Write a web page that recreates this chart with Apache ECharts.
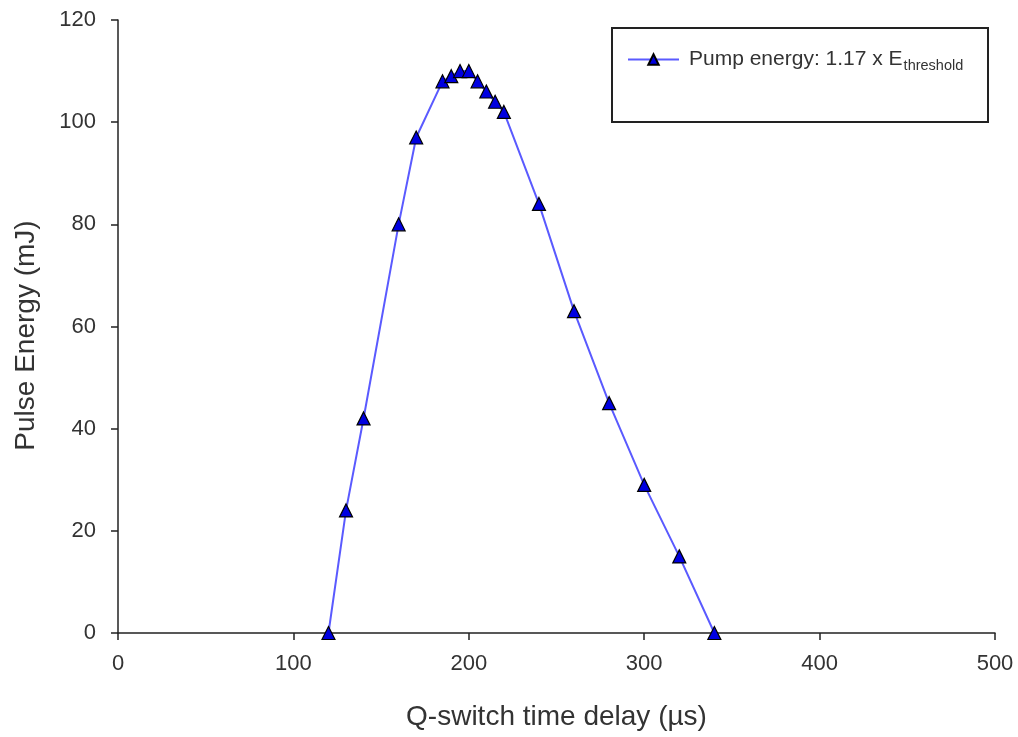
<!DOCTYPE html>
<html><head><meta charset="utf-8">
<script src="https://cdn.jsdelivr.net/npm/echarts@6/dist/echarts.min.js"></script>
<style>html,body{margin:0;padding:0;background:#fff}#c{width:1018px;height:737px}</style>
</head><body><div id="c"></div>
<script>
const delay = [120,130,140,160,170,185,190,195,200,205,210,215,220,240,260,280,300,320,340];
const energy = [0,24,42,80,97,108,109,110,110,108,106,104,102,84,63,45,29,15,0];
const xTicks = [0,100,200,300,400,500];
const yTicks = [0,20,40,60,80,100,120];
const seriesName = 'Pump energy: 1.17 x E';

const chart = echarts.init(document.getElementById('c'), null, {renderer:'canvas'});
const font = 'Liberation Sans, Arial, sans-serif';
chart.setOption({
  animation:false,
  backgroundColor:'#fff',
  grid:{left:118,right:23,top:20,bottom:104,containLabel:false},
  xAxis:{type:'value',min:xTicks[0],max:xTicks[xTicks.length-1],interval:100,
    name:'Q-switch time delay (µs)',nameLocation:'middle',nameGap:70,
    nameTextStyle:{fontFamily:font,fontSize:28,color:'#333'},
    axisLine:{lineStyle:{color:'#222',width:1.5}},
    axisTick:{length:7,lineStyle:{color:'#222',width:1.5}},
    axisLabel:{fontFamily:font,fontSize:22,color:'#333',margin:20},
    splitLine:{show:false}},
  yAxis:{type:'value',min:yTicks[0],max:yTicks[yTicks.length-1],interval:20,
    name:'Pulse Energy (mJ)',nameLocation:'middle',nameGap:78,
    nameTextStyle:{fontFamily:font,fontSize:28,color:'#333',padding:[0,18,0,0]},
    axisLine:{show:true,lineStyle:{color:'#222',width:1.5}},
    axisTick:{show:true,length:7,lineStyle:{color:'#222',width:1.5}},
    axisLabel:{fontFamily:font,fontSize:22,color:'#333',margin:22},
    splitLine:{show:false}},
  legend:{left:622,top:44,itemWidth:51,itemHeight:13,itemGap:0,
    data:[{name:seriesName}],
    formatter:function(n){return n+'{sub|threshold}';},
    textStyle:{fontFamily:font,fontSize:21,color:'#333',padding:[0,0,0,5],
      rich:{sub:{fontFamily:font,fontSize:14.5,color:'#333',padding:[12,0,0,1]}}}},
  graphic:[{type:'rect',shape:{x:612,y:28,width:376,height:94},
    style:{fill:'none',stroke:'#222',lineWidth:2},z:10}],
  series:[{name:seriesName,type:'line',data:delay.map((d,i)=>[d,energy[i]]),
    symbol:'triangle',symbolSize:13,
    lineStyle:{color:'#5a5aff',width:2},
    itemStyle:{color:'#0000e0',borderColor:'#000',borderWidth:1.2}}]
});
</script></body></html>
